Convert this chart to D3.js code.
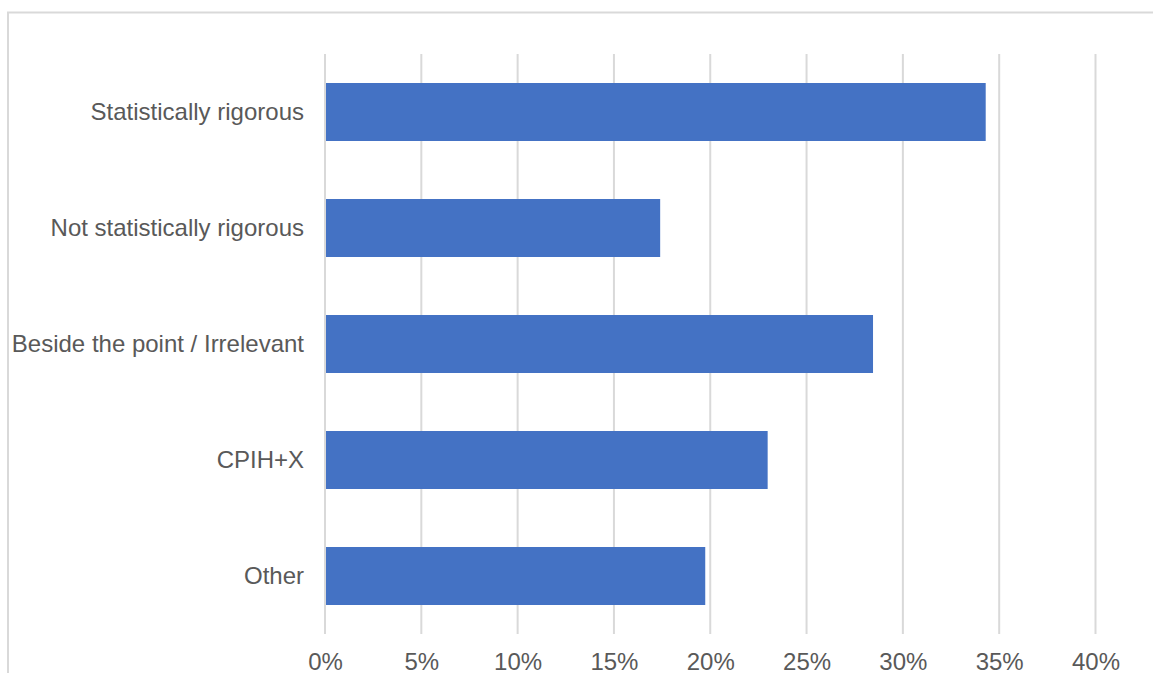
<!DOCTYPE html>
<html>
<head>
<meta charset="utf-8">
<script src="https://cdn.jsdelivr.net/npm/d3@7"></script>
<style>
  html, body { margin: 0; padding: 0; background: #fff; overflow: hidden; }
  svg { display: block; }
</style>
</head>
<body>
<svg id="chart" width="1153" height="673"></svg>
<script>
const categories = ["Statistically rigorous", "Not statistically rigorous", "Beside the point / Irrelevant", "CPIH+X", "Other"];
const values = [0.343, 0.174, 0.2845, 0.2298, 0.1974];
const tickValues = [0, 0.05, 0.10, 0.15, 0.20, 0.25, 0.30, 0.35, 0.40];

const svg = d3.select("#chart");
const fontFamily = "'Liberation Sans', Arial, sans-serif";
const textColor = "#595959";

// outer chart border
svg.append("rect")
  .attr("x", 8).attr("y", 12.5)
  .attr("width", 1160).attr("height", 680)
  .attr("fill", "none")
  .attr("stroke", "#d9d9d9")
  .attr("stroke-width", 2);

const x = d3.scaleLinear().domain([0, 0.40]).range([325, 1095.5]);
const y = d3.scaleBand().domain(categories).range([54, 634]).paddingInner(0.5).paddingOuter(0.25);

// gridlines
svg.append("g")
  .selectAll("line")
  .data(tickValues)
  .join("line")
  .attr("x1", d => x(d)).attr("x2", d => x(d))
  .attr("y1", 54).attr("y2", 634)
  .attr("stroke", "#d9d9d9")
  .attr("stroke-width", 2);

// bars
svg.append("g")
  .selectAll("rect")
  .data(categories)
  .join("rect")
  .attr("x", x(0) + 1)
  .attr("y", d => y(d))
  .attr("width", (d, i) => x(values[i]) - x(0) - 1)
  .attr("height", y.bandwidth())
  .attr("fill", "#4472c4");

// x axis labels
const xAxis = d3.axisBottom(x).tickValues(tickValues).tickFormat(d3.format(".0%")).tickSize(0).tickPadding(0);
const gx = svg.append("g").attr("transform", "translate(0,653)").call(xAxis);
gx.select(".domain").remove();
gx.selectAll("text")
  .attr("font-family", fontFamily)
  .attr("font-size", "24px")
  .attr("fill", textColor)
  .attr("dy", "0.71em");

// y axis labels
const yAxis = d3.axisLeft(y).tickSize(0).tickPadding(21);
const gy = svg.append("g").attr("transform", `translate(${x(0)},0)`).call(yAxis);
gy.select(".domain").remove();
gy.selectAll("text")
  .attr("font-family", fontFamily)
  .attr("font-size", "24px")
  .attr("fill", textColor);
</script>
</body>
</html>
